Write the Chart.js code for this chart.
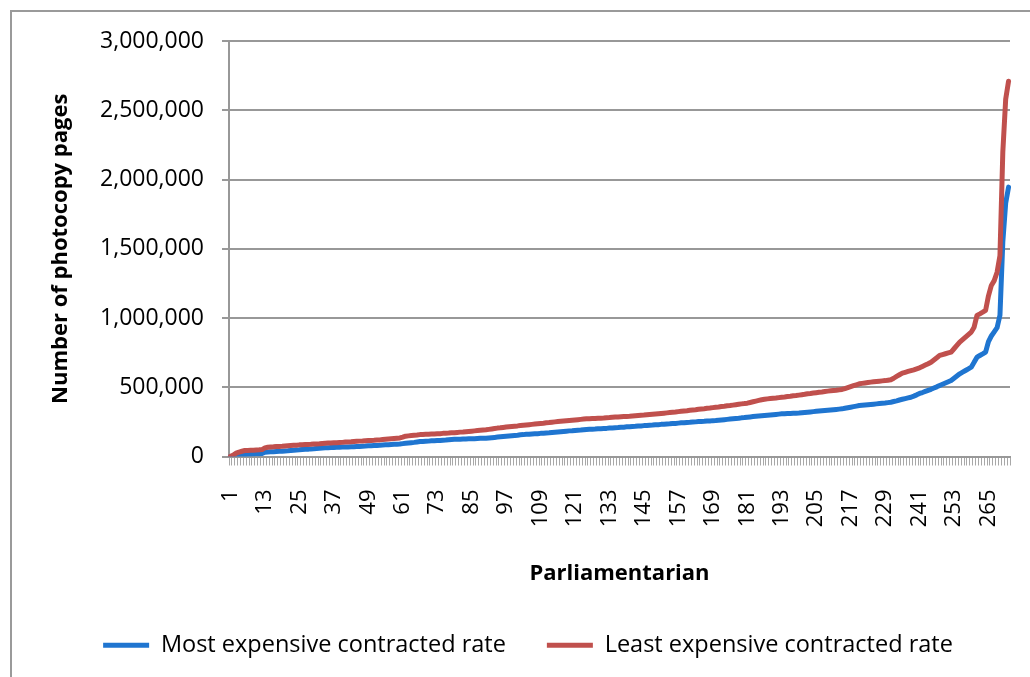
<!DOCTYPE html>
<html lang="en">
<head>
<meta charset="UTF-8">
<title>Photocopy pages per parliamentarian</title>
<style>
    html, body { margin: 0; padding: 0; background: #fff; overflow: hidden; }
    .frame {
        position: absolute; left: 10px; top: 10px;
        width: 1030px; height: 700px;
        border-left: 2px solid #9a9a9a;
        border-top: 2px solid #9a9a9a;
    }
    #chart { position: absolute; left: 0; top: 0; }
</style>
</head>
<body>

<div class="frame"></div>
<canvas id="chart" width="1030" height="677"></canvas>

<script src="https://cdn.jsdelivr.net/npm/chart.js@4.4.0/dist/chart.umd.min.js"></script>
<script>
// pages each parliamentarian's allowance buys, sorted ascending (10 per row)
const mostExpensive = [
    0, 2000, 5000, 8000, 11000, 14000, 16000, 17000, 18000, 19000,
    20000, 22000, 31000, 33000, 34000, 35000, 36000, 37000, 38000, 40000,
    41000, 43000, 45000, 47000, 48000, 50000, 52000, 53000, 55000, 56000,
    58000, 59000, 61000, 63000, 64000, 65000, 65000, 66000, 67000, 68000,
    68000, 69000, 70000, 71000, 72000, 73000, 74000, 75000, 77000, 78000,
    79000, 80000, 81000, 83000, 84000, 85000, 87000, 88000, 89000, 90000,
    93000, 96000, 98000, 100000, 102000, 105000, 108000, 109000, 110000, 111000,
    113000, 114000, 115000, 116000, 118000, 119000, 121000, 123000, 124000, 125000,
    125000, 126000, 127000, 128000, 128000, 129000, 130000, 131000, 131000, 132000,
    134000, 136000, 138000, 140000, 142000, 144000, 146000, 148000, 150000, 152000,
    154000, 157000, 158000, 160000, 161000, 163000, 164000, 165000, 167000, 168000,
    170000, 171000, 173000, 175000, 177000, 179000, 181000, 183000, 185000, 186000,
    188000, 190000, 191000, 193000, 195000, 196000, 197000, 198000, 200000, 201000,
    202000, 203000, 205000, 206000, 208000, 209000, 211000, 212000, 214000, 215000,
    217000, 218000, 220000, 221000, 223000, 224000, 226000, 227000, 229000, 230000,
    232000, 233000, 235000, 236000, 238000, 239000, 241000, 243000, 244000, 246000,
    247000, 249000, 250000, 252000, 253000, 254000, 256000, 257000, 259000, 260000,
    262000, 264000, 266000, 268000, 270000, 272000, 274000, 276000, 279000, 281000,
    284000, 286000, 288000, 290000, 292000, 294000, 296000, 298000, 300000, 302000,
    304000, 306000, 308000, 309000, 310000, 311000, 312000, 313000, 314000, 316000,
    318000, 320000, 322000, 324000, 326000, 328000, 330000, 332000, 334000, 336000,
    338000, 340000, 342000, 344000, 348000, 352000, 356000, 360000, 364000, 368000,
    370000, 372000, 374000, 376000, 378000, 380000, 382000, 384000, 386000, 389000,
    392000, 397000, 402000, 408000, 413000, 418000, 423000, 428000, 436000, 445000,
    455000, 462000, 470000, 478000, 485000, 494000, 503000, 513000, 522000, 531000,
    540000, 549000, 565000, 581000, 597000, 609000, 621000, 633000, 645000, 680000,
    717000, 729000, 741000, 754000, 830000, 870000, 900000, 930000, 1020000, 1550000,
    1830000, 1945000
];

const leastExpensive = [
    2000, 10000, 24000, 32000, 38000, 43000, 44000, 45000, 46000, 47000,
    48000, 50000, 62000, 67000, 69000, 70000, 72000, 73000, 74000, 76000,
    78000, 80000, 81000, 82000, 84000, 85000, 86000, 87000, 88000, 90000,
    91000, 92000, 94000, 96000, 97000, 98000, 99000, 100000, 101000, 102000,
    104000, 105000, 106000, 108000, 110000, 111000, 112000, 114000, 115000, 116000,
    117000, 119000, 120000, 122000, 124000, 126000, 128000, 130000, 132000, 134000,
    140000, 147000, 149000, 151000, 153000, 155000, 158000, 159000, 160000, 161000,
    162000, 163000, 164000, 165000, 167000, 168000, 169000, 171000, 172000, 174000,
    176000, 177000, 179000, 181000, 183000, 185000, 187000, 189000, 191000, 193000,
    196000, 199000, 202000, 205000, 207000, 210000, 213000, 215000, 217000, 219000,
    221000, 224000, 226000, 228000, 230000, 232000, 234000, 236000, 238000, 240000,
    243000, 245000, 248000, 250000, 252000, 254000, 256000, 258000, 260000, 262000,
    264000, 266000, 268000, 270000, 272000, 273000, 274000, 275000, 276000, 277000,
    278000, 280000, 281000, 283000, 285000, 286000, 287000, 288000, 289000, 290000,
    292000, 294000, 296000, 298000, 299000, 301000, 303000, 305000, 307000, 309000,
    311000, 313000, 315000, 317000, 319000, 321000, 324000, 327000, 329000, 331000,
    334000, 336000, 338000, 341000, 343000, 345000, 348000, 350000, 353000, 356000,
    358000, 361000, 363000, 366000, 368000, 371000, 374000, 377000, 380000, 382000,
    385000, 390000, 395000, 400000, 405000, 410000, 413000, 416000, 418000, 420000,
    422000, 425000, 428000, 430000, 433000, 435000, 438000, 440000, 443000, 446000,
    449000, 453000, 455000, 458000, 461000, 464000, 466000, 469000, 472000, 474000,
    476000, 478000, 481000, 484000, 490000, 497000, 504000, 511000, 518000, 525000,
    528000, 531000, 534000, 537000, 540000, 542000, 544000, 546000, 548000, 551000,
    554000, 565000, 578000, 590000, 602000, 608000, 614000, 620000, 626000, 633000,
    640000, 650000, 660000, 670000, 681000, 697000, 713000, 730000, 736000, 742000,
    748000, 754000, 778000, 802000, 826000, 844000, 862000, 880000, 898000, 934000,
    1019000, 1030000, 1042000, 1055000, 1160000, 1235000, 1270000, 1330000, 1450000, 2200000,
    2580000, 2710000
];

// parliamentarian number along the x axis, only every 12th one is labelled
const parliamentarians = mostExpensive.map((_, i) => String(i + 1));
const xTickLabels = ['1', '13', '25', '37', '49', '61', '73', '85', '97', '109', '121',
    '133', '145', '157', '169', '181', '193', '205', '217', '229', '241', '253', '265'];

const BLUE = '#1f75d0';
const RED = '#c0504d';
const AXIS = '#989898';
const FONT = 'Open Sans';

const ctx = document.getElementById('chart').getContext('2d');
const chart = new Chart(ctx, {
    type: 'line',
    data: {
        labels: parliamentarians,
        datasets: [
            {
                label: 'Most expensive contracted rate',
                data: mostExpensive,
                borderColor: BLUE,
                backgroundColor: BLUE,
                borderWidth: 5,
                pointRadius: 0,
                borderCapStyle: 'round',
                borderJoinStyle: 'round',
                order: 1
            },
            {
                label: 'Least expensive contracted rate',
                data: leastExpensive,
                borderColor: RED,
                backgroundColor: RED,
                borderWidth: 5,
                pointRadius: 0,
                borderCapStyle: 'round',
                borderJoinStyle: 'round',
                order: 0
            }
        ]
    },
    options: {
        responsive: false,
        animation: false,
        layout: { padding: { left: 46, top: 41, right: 20, bottom: 10 } },
        plugins: {
            tooltip: { enabled: false },
            legend: {
                position: 'bottom',
                labels: {
                    color: '#000',
                    font: { family: FONT, size: 23.5 },
                    boxWidth: 46,
                    boxHeight: 5,
                    padding: 41,
                    generateLabels(chart) {
                        // solid line swatch, kept in dataset order
                        return Chart.defaults.plugins.legend.labels.generateLabels(chart)
                            .map(item => Object.assign(item, { fillStyle: item.strokeStyle, lineWidth: 0 }))
                            .sort((a, b) => a.datasetIndex - b.datasetIndex);
                    }
                }
            }
        },
        scales: {
            x: {
                offset: true,
                grid: {
                    offset: true,
                    drawOnChartArea: false,
                    tickLength: 9,
                    color: '#a8a8a8',
                    lineWidth: 1
                },
                border: { color: AXIS, width: 2 },
                ticks: {
                    autoSkip: false,
                    minRotation: 90,
                    maxRotation: 90,
                    padding: 24,
                    color: '#000',
                    font: { family: FONT, size: 22 },
                    callback(value) {
                        const label = this.getLabelForValue(value);
                        return xTickLabels.includes(label) ? label : '';
                    }
                },
                title: {
                    display: true,
                    text: 'Parliamentarian',
                    color: '#000',
                    font: { family: FONT, size: 22, weight: 'bold' },
                    padding: { top: 0, bottom: 6 }
                },
                afterFit(scale) {
                    scale.height = 136;
                    // rotated labels would otherwise reserve room at the ends
                    scale.paddingLeft = 0;
                    scale.paddingRight = 0;
                }
            },
            y: {
                min: 0,
                max: 3000000,
                ticks: {
                    stepSize: 500000,
                    padding: 18,
                    color: '#000',
                    font: { family: FONT, size: 23 },
                    callback: value => value.toLocaleString('en-US')
                },
                grid: { color: AXIS, lineWidth: 2, tickLength: 7 },
                border: { color: AXIS, width: 2 },
                title: {
                    display: true,
                    text: 'Number of photocopy pages',
                    color: '#000',
                    font: { family: FONT, size: 22, weight: 'bold' },
                    padding: { top: 2, bottom: 0 }
                },
                afterFit(scale) { scale.width = 183; }
            }
        }
    }
});
</script>
</body>
</html>
